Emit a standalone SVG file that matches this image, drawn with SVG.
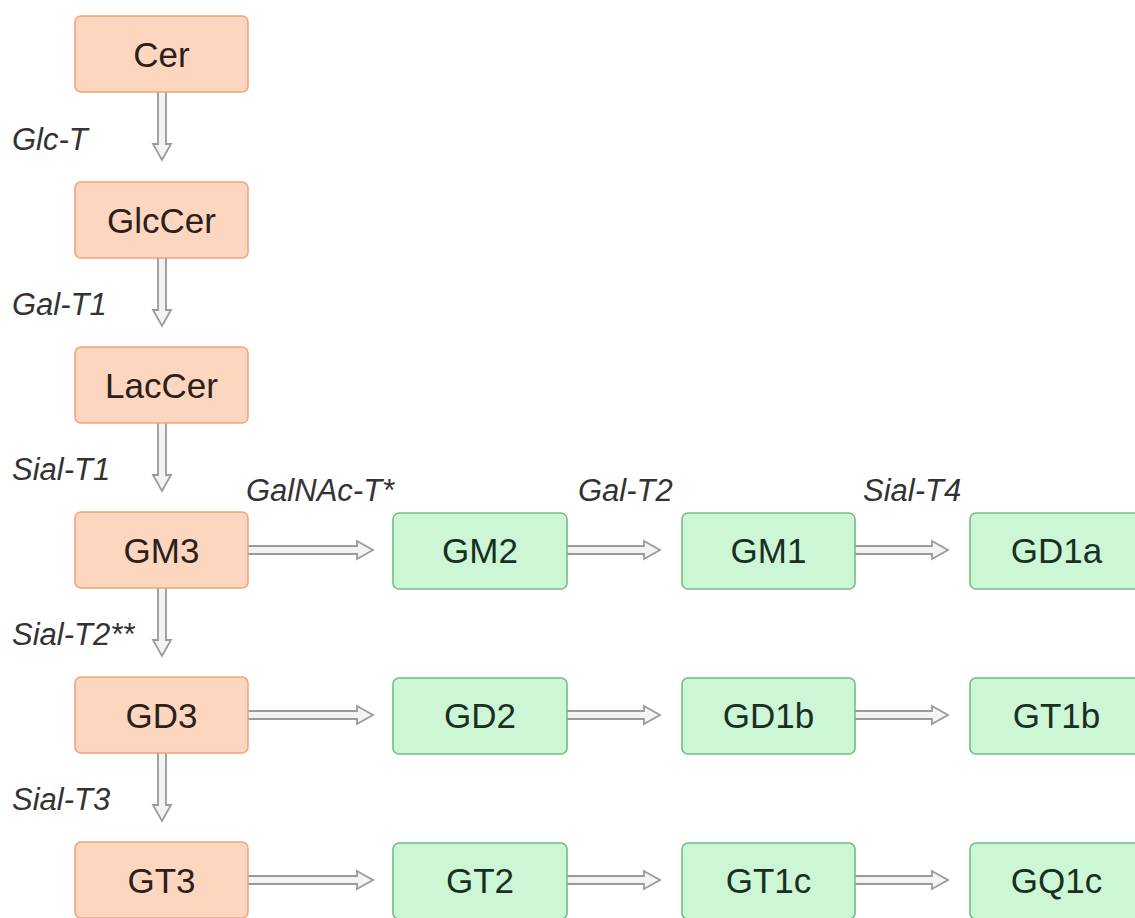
<svg xmlns="http://www.w3.org/2000/svg" width="1135" height="918" viewBox="0 0 1135 918">
<style>
.o rect{fill:#fcd6bf;stroke:#eda57a;stroke-width:1.6}
.g rect{fill:#cdf6d6;stroke:#6fbf85;stroke-width:1.6}
.t{font-family:"Liberation Sans",Arial,sans-serif;font-size:35px;text-anchor:middle}
.o .t{fill:#2b201a}
.g .t{fill:#18301f}
.lab{font-family:"Liberation Sans",Arial,sans-serif;font-size:31px;font-style:italic;fill:#333}
.arr{fill:#f3f3f3;stroke:#9a9a9a;stroke-width:1.8;stroke-linejoin:miter}
</style>
<rect width="1135" height="918" fill="#fff"/>
<g id="connectors">
  <path class="arr" d="M158,88 V144 H153 L162,160 L171,144 H166 V88 Z"/>
  <path class="arr" d="M158,254 V310 H153 L162,326 L171,310 H166 V254 Z"/>
  <path class="arr" d="M158,419 V475 H153 L162,491 L171,475 H166 V419 Z"/>
  <path class="arr" d="M158,584 V640 H153 L162,656 L171,640 H166 V584 Z"/>
  <path class="arr" d="M158,749 V805 H153 L162,821 L171,805 H166 V749 Z"/>
  <path class="arr" d="M244,546 H357 V541 L373,550 L357,559 V554 H244 Z"/>
  <path class="arr" d="M563,546 H644 V541 L660,550 L644,559 V554 H563 Z"/>
  <path class="arr" d="M851,546 H932 V541 L948,550 L932,559 V554 H851 Z"/>
  <path class="arr" d="M244,711 H357 V706 L373,715 L357,724 V719 H244 Z"/>
  <path class="arr" d="M563,711 H644 V706 L660,715 L644,724 V719 H563 Z"/>
  <path class="arr" d="M851,711 H932 V706 L948,715 L932,724 V719 H851 Z"/>
  <path class="arr" d="M244,876 H357 V871 L373,880 L357,889 V884 H244 Z"/>
  <path class="arr" d="M563,876 H644 V871 L660,880 L644,889 V884 H563 Z"/>
  <path class="arr" d="M851,876 H932 V871 L948,880 L932,889 V884 H851 Z"/>
</g>
<g id="labels">
  <text class="lab" x="12" y="150">Glc-T</text>
  <text class="lab" x="12" y="315">Gal-T1</text>
  <text class="lab" x="12" y="480">Sial-T1</text>
  <text class="lab" x="12" y="645">Sial-T2**</text>
  <text class="lab" x="12" y="810">Sial-T3</text>
  <text class="lab" x="246" y="501">GalNAc-T*</text>
  <text class="lab" x="578" y="501">Gal-T2</text>
  <text class="lab" x="863" y="501">Sial-T4</text>
</g>
<g id="Cer" class="o"><rect x="75" y="16" width="173" height="76" rx="6"/><text class="t" x="161.5" y="67">Cer</text></g>
<g id="GlcCer" class="o"><rect x="75" y="182" width="173" height="76" rx="6"/><text class="t" x="161.5" y="233">GlcCer</text></g>
<g id="LacCer" class="o"><rect x="75" y="347" width="173" height="76" rx="6"/><text class="t" x="161.5" y="398">LacCer</text></g>
<g id="GM3" class="o"><rect x="75" y="512" width="173" height="76" rx="6"/><text class="t" x="161.5" y="563">GM3</text></g>
<g id="GD3" class="o"><rect x="75" y="677" width="173" height="76" rx="6"/><text class="t" x="161.5" y="728">GD3</text></g>
<g id="GT3" class="o"><rect x="75" y="842" width="173" height="76" rx="6"/><text class="t" x="161.5" y="893">GT3</text></g>
<g id="GM2" class="g"><rect x="393" y="513" width="174" height="76" rx="6"/><text class="t" x="480" y="563">GM2</text></g>
<g id="GM1" class="g"><rect x="682" y="513" width="173" height="76" rx="6"/><text class="t" x="768.5" y="563">GM1</text></g>
<g id="GD1a" class="g"><rect x="970" y="513" width="173" height="76" rx="6"/><text class="t" x="1056.5" y="563">GD1a</text></g>
<g id="GD2" class="g"><rect x="393" y="678" width="174" height="76" rx="6"/><text class="t" x="480" y="728">GD2</text></g>
<g id="GD1b" class="g"><rect x="682" y="678" width="173" height="76" rx="6"/><text class="t" x="768.5" y="728">GD1b</text></g>
<g id="GT1b" class="g"><rect x="970" y="678" width="173" height="76" rx="6"/><text class="t" x="1056.5" y="728">GT1b</text></g>
<g id="GT2" class="g"><rect x="393" y="843" width="174" height="76" rx="6"/><text class="t" x="480" y="893">GT2</text></g>
<g id="GT1c" class="g"><rect x="682" y="843" width="173" height="76" rx="6"/><text class="t" x="768.5" y="893">GT1c</text></g>
<g id="GQ1c" class="g"><rect x="970" y="843" width="173" height="76" rx="6"/><text class="t" x="1056.5" y="893">GQ1c</text></g>
</svg>
